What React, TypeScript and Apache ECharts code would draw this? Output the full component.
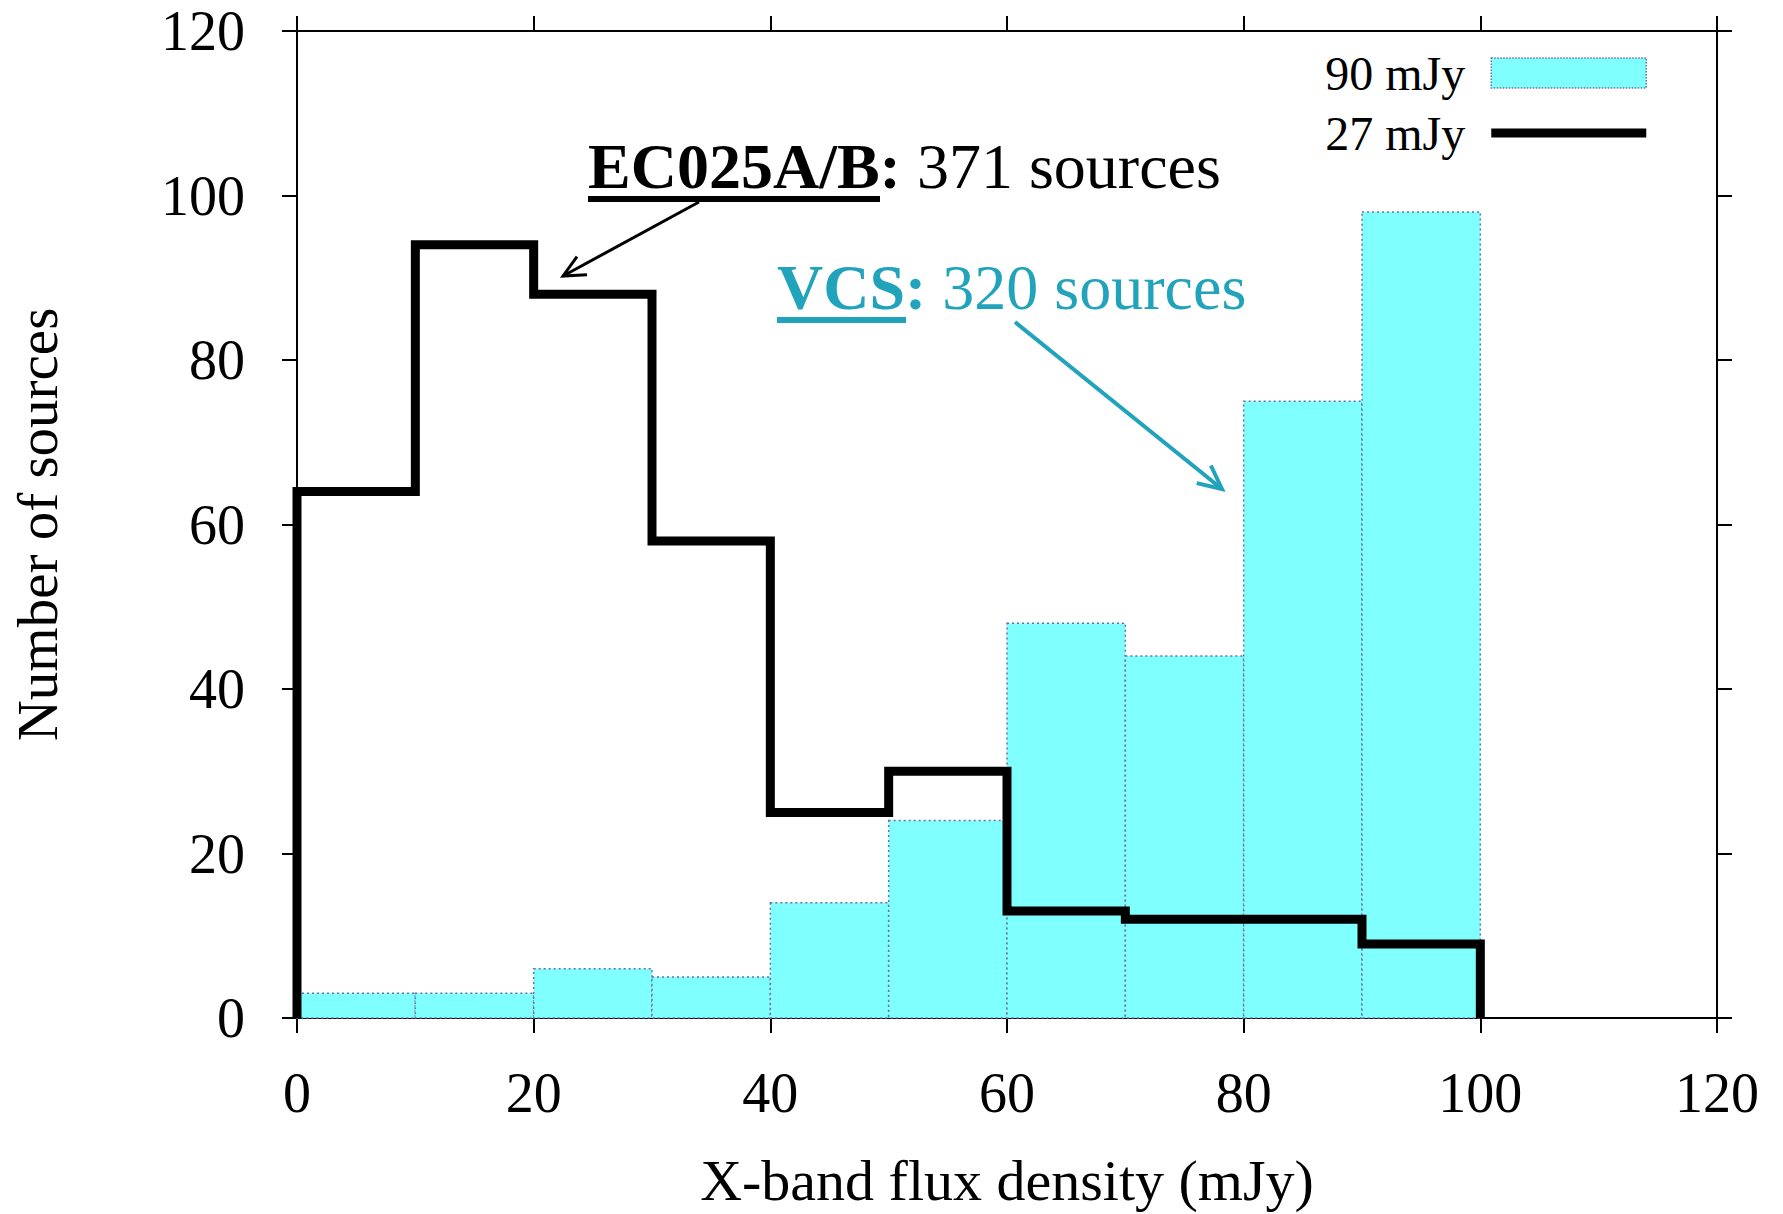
import { useEffect, useRef } from "react";
import * as echarts from "echarts";

// Histogram bins (mJy) and counts per bin
const binEdges = [0, 10, 20, 30, 40, 50, 60, 70, 80, 90, 100];
const vcsCounts = [3, 3, 6, 5, 14, 24, 48, 44, 75, 98];
const ecCounts = [64, 94, 88, 58, 25, 30, 13, 12, 12, 9];

const seriesNames = ["90 mJy", "27 mJy"];
const xRange = [0, 120];
const yRange = [0, 120];
const tickStep = 20;

const SERIF = '"Liberation Serif", "Times New Roman", Times, serif';
const TEAL = "#21a3bb";
const CYAN = "#80ffff";
const BAR_EDGE = "#6b6fa8";

// V-shaped open arrow head at `head`, pointing away from `tail`
function arrowHead(tail: number[], head: number[], len: number, spread: number) {
  const ang = Math.atan2(tail[1] - head[1], tail[0] - head[0]);
  const a1 = ang + spread;
  const a2 = ang - spread;
  return [
    [head[0] + len * Math.cos(a1), head[1] + len * Math.sin(a1)],
    [head[0], head[1]],
    [head[0] + len * Math.cos(a2), head[1] + len * Math.sin(a2)],
  ];
}

export default function App() {
  const ref = useRef<HTMLDivElement>(null);

  useEffect(() => {
    document.body.style.margin = "0";
    if (!ref.current) return;
    const chart = echarts.init(ref.current, null, { renderer: "svg" });

    const barData = vcsCounts.map((c, i) => [binEdges[i], binEdges[i + 1], c]);
    const outline: number[][] = [[binEdges[0], 0]];
    ecCounts.forEach((c, i) => {
      outline.push([binEdges[i], c], [binEdges[i + 1], c]);
    });
    outline.push([binEdges[binEdges.length - 1], 0]);

    const ecTail = [699, 202];
    const ecHead = [563, 276];
    const vcsTail = [1015, 322];
    const vcsHead = [1222, 489];

    const axisLine = { show: true, onZero: false, lineStyle: { color: "#000", width: 2 } };
    const axisTick = { show: true, inside: false, length: 15, lineStyle: { color: "#000", width: 2 } };
    const labelFont = { fontFamily: SERIF, fontSize: 56, color: "#000" };

    chart.setOption({
      animation: false,
      backgroundColor: "#fff",
      grid: { left: 297, right: 66, top: 31, bottom: 189, containLabel: false },
      xAxis: [
        {
          type: "value",
          position: "bottom",
          min: xRange[0],
          max: xRange[1],
          interval: tickStep,
          name: "X-band flux density (mJy)",
          nameLocation: "middle",
          nameGap: 133,
          nameTextStyle: { fontFamily: SERIF, fontSize: 58, color: "#000" },
          axisLine,
          axisTick,
          splitLine: { show: false },
          axisLabel: { ...labelFont, margin: 47 },
        },
        {
          type: "value",
          position: "top",
          min: xRange[0],
          max: xRange[1],
          interval: tickStep,
          axisLine,
          axisTick,
          splitLine: { show: false },
          axisLabel: { show: false },
        },
      ],
      yAxis: [
        {
          type: "value",
          position: "left",
          min: yRange[0],
          max: yRange[1],
          interval: tickStep,
          name: "Number of sources",
          nameLocation: "middle",
          nameGap: 231,
          nameRotate: 90,
          nameTextStyle: { fontFamily: SERIF, fontSize: 57, color: "#000" },
          axisLine,
          axisTick,
          splitLine: { show: false },
          axisLabel: { ...labelFont, margin: 52 },
        },
        {
          type: "value",
          position: "right",
          min: yRange[0],
          max: yRange[1],
          interval: tickStep,
          axisLine,
          axisTick,
          splitLine: { show: false },
          axisLabel: { show: false },
        },
      ],
      legend: {
        orient: "vertical",
        right: 136,
        top: 49,
        padding: 0,
        align: "right",
        itemWidth: 155,
        itemHeight: 30,
        itemGap: 12,
        selectedMode: false,
        textStyle: { fontFamily: SERIF, fontSize: 48, color: "#000", padding: [0, 21, 0, 0] },
        data: [
          {
            name: seriesNames[0],
            icon: "rect",
            itemStyle: { color: CYAN, borderColor: BAR_EDGE, borderWidth: 1.5, borderType: "dotted" },
          },
          {
            name: seriesNames[1],
            icon: "path://M0,0L155,0L155,9L0,9Z",
            itemStyle: { color: "#000", borderWidth: 0 },
          },
        ],
      },
      series: [
        {
          name: seriesNames[0],
          type: "custom",
          data: barData,
          encode: { x: [0, 1], y: 2 },
          z: 2,
          renderItem: (_params: any, api: any) => {
            const x0 = api.value(0);
            const x1 = api.value(1);
            const v = api.value(2);
            const pTop = api.coord([x0, v]);
            const pBot = api.coord([x1, 0]);
            return {
              type: "rect",
              shape: { x: pTop[0], y: pTop[1], width: pBot[0] - pTop[0], height: pBot[1] - pTop[1] },
              style: { fill: CYAN, stroke: BAR_EDGE, lineWidth: 1.5, lineDash: [2, 3] },
            };
          },
        },
        {
          name: seriesNames[1],
          type: "line",
          data: outline,
          symbol: "none",
          clip: false,
          z: 5,
          itemStyle: { color: "#000" },
          lineStyle: { color: "#000", width: 9, join: "miter", cap: "butt" },
        },
      ],
      graphic: [
        {
          type: "text",
          x: 588,
          y: 166,
          z: 10,
          style: {
            text: "{b|EC025A/B:}{r| 371 sources}",
            verticalAlign: "middle",
            align: "left",
            rich: {
              b: { fontFamily: SERIF, fontSize: 64, fontWeight: "bold", fill: "#000" },
              r: { fontFamily: SERIF, fontSize: 64, fill: "#000" },
            },
          },
        },
        {
          type: "rect",
          z: 10,
          shape: { x: 588, y: 196, width: 292, height: 6 },
          style: { fill: "#000" },
        },
        {
          type: "polyline",
          z: 10,
          shape: { points: [ecTail, ecHead] },
          style: { stroke: "#000", lineWidth: 3, fill: "none" },
        },
        {
          type: "polyline",
          z: 10,
          shape: { points: arrowHead(ecTail, ecHead, 24, 0.45) },
          style: { stroke: "#000", lineWidth: 3, fill: "none" },
        },
        {
          type: "text",
          x: 777,
          y: 287,
          z: 10,
          style: {
            text: "{b|VCS:}{r| 320 sources}",
            verticalAlign: "middle",
            align: "left",
            rich: {
              b: { fontFamily: SERIF, fontSize: 64, fontWeight: "bold", fill: TEAL },
              r: { fontFamily: SERIF, fontSize: 64, fill: TEAL },
            },
          },
        },
        {
          type: "rect",
          z: 10,
          shape: { x: 777, y: 317, width: 129, height: 6 },
          style: { fill: TEAL },
        },
        {
          type: "polyline",
          z: 10,
          shape: { points: [vcsTail, vcsHead] },
          style: { stroke: TEAL, lineWidth: 4, fill: "none" },
        },
        {
          type: "polyline",
          z: 10,
          shape: { points: arrowHead(vcsTail, vcsHead, 26, 0.45) },
          style: { stroke: TEAL, lineWidth: 4, fill: "none" },
        },
      ],
    });

    return () => chart.dispose();
  }, []);

  return <div ref={ref} style={{ width: 1783, height: 1214 }} />;
}
